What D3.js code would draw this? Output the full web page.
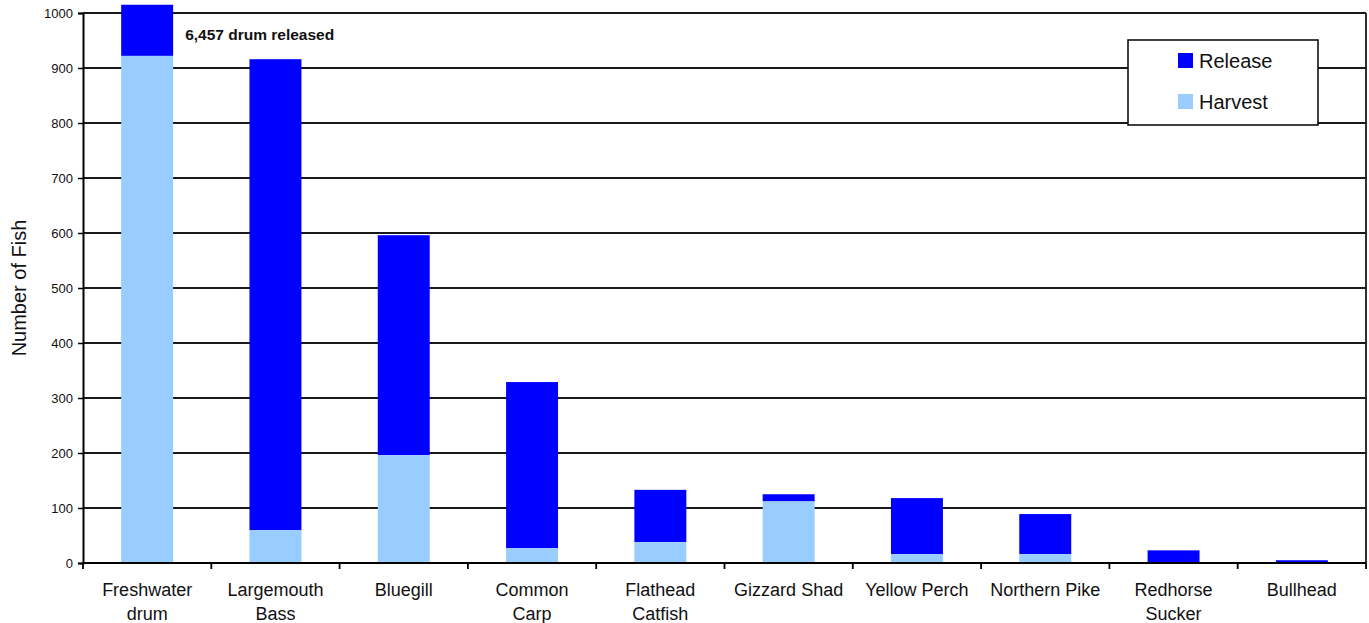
<!DOCTYPE html>
<html>
<head>
<meta charset="utf-8">
<script src="https://cdn.jsdelivr.net/npm/d3@7"></script>
<style>
  html, body { margin: 0; padding: 0; background: #fff; }
  svg { display: block; font-family: "Liberation Sans", Arial, sans-serif; }
</style>
</head>
<body>
<svg id="chart" width="1369" height="623"></svg>
<script>
// ---- data ----
const categories = [
  ["Freshwater", "drum"], ["Largemouth", "Bass"], ["Bluegill"], ["Common", "Carp"],
  ["Flathead", "Catfish"], ["Gizzard Shad"], ["Yellow Perch"], ["Northern Pike"],
  ["Redhorse", "Sucker"], ["Bullhead"]
];
const harvest = [922, 60, 196, 27, 38, 112, 16, 16, 0, 0];
const release = [6457, 856, 400, 302, 95, 13, 102, 73, 23, 5];
const yTicks = [0, 100, 200, 300, 400, 500, 600, 700, 800, 900, 1000];
const seriesNames = ["Release", "Harvest"];
const seriesColors = ["#0000FF", "#99CCFF"];
const barCap = 1015;            // tallest bar is cut just above the axis top
const note = "6,457 drum released";
const yTitle = "Number of Fish";

// ---- layout ----
const svg = d3.select("#chart");
const m = { left: 83, right: 1366, top: 13, bottom: 563 };

const x = d3.scaleBand().domain(d3.range(categories.length))
  .range([m.left, m.right]).paddingInner(0.595).paddingOuter(0.2975);
const xb = d3.scaleBand().domain(d3.range(categories.length)).range([m.left, m.right]);
const y = d3.scaleLinear().domain([0, 1000]).range([m.bottom, m.top]);

// gridlines
svg.append("g").selectAll("line").data(yTicks.filter(d => d > 0)).join("line")
  .attr("x1", m.left).attr("x2", m.right)
  .attr("y1", d => y(d)).attr("y2", d => y(d))
  .attr("stroke", "#1a1a1a").attr("stroke-width", 1.8);

// right border
svg.append("line").attr("x1", m.right).attr("x2", m.right)
  .attr("y1", y(1000)).attr("y2", y(0)).attr("stroke", "#1a1a1a").attr("stroke-width", 1.8);

// bars
const bars = svg.append("g");
categories.forEach((c, i) => {
  const h = harvest[i];
  const top = Math.min(h + release[i], barCap);
  bars.append("rect").attr("x", x(i)).attr("width", x.bandwidth())
    .attr("y", y(top)).attr("height", y(h) - y(top)).attr("fill", seriesColors[0]);
  if (h > 0) {
    bars.append("rect").attr("x", x(i)).attr("width", x.bandwidth())
      .attr("y", y(h)).attr("height", y(0) - y(h)).attr("fill", seriesColors[1]);
  }
});

// y axis
const yAxis = svg.append("g").attr("transform", `translate(${m.left},0)`)
  .call(d3.axisLeft(y).tickValues(yTicks).tickSize(5).tickPadding(5).tickFormat(d3.format("d")));
yAxis.select(".domain").attr("stroke", "#000").attr("stroke-width", 2);
yAxis.selectAll(".tick line").attr("stroke", "#000").attr("stroke-width", 1.5);
yAxis.selectAll(".tick text").attr("font-size", 13).attr("fill", "#111")
  .attr("font-family", "Liberation Sans, Arial, sans-serif");

// x axis
const xAxis = svg.append("g").attr("transform", `translate(0,${m.bottom})`);
xAxis.append("line").attr("x1", m.left).attr("x2", m.right).attr("y1", 0).attr("y2", 0)
  .attr("stroke", "#000").attr("stroke-width", 2.2);
const bounds = d3.range(categories.length + 1).map(i => i < categories.length ? xb(i) : m.right);
xAxis.selectAll("line.tk").data(bounds).join("line").attr("class", "tk")
  .attr("x1", d => d).attr("x2", d => d).attr("y1", 0).attr("y2", 6)
  .attr("stroke", "#000").attr("stroke-width", 1.8);
const labels = xAxis.selectAll("text").data(categories).join("text")
  .attr("text-anchor", "middle").attr("font-size", 18).attr("fill", "#111");
labels.each(function (c, i) {
  const t = d3.select(this);
  c.forEach((line, k) => {
    t.append("tspan").attr("x", xb(i) + xb.bandwidth() / 2).attr("y", 33 + k * 24).text(line);
  });
});

// y title
svg.append("text").attr("transform", `translate(26,${(m.top + m.bottom) / 2}) rotate(-90)`)
  .attr("text-anchor", "middle").attr("font-size", 20).attr("fill", "#111").text(yTitle);

// annotation
svg.append("text").attr("x", x(0) + x.bandwidth() + 12).attr("y", 40)
  .attr("font-size", 15.5).attr("font-weight", "bold")
  .attr("fill", "#111").text(note);

// legend
const lg = svg.append("g");
lg.append("rect").attr("x", 1128).attr("y", 40).attr("width", 190).attr("height", 85)
  .attr("fill", "#fff").attr("stroke", "#111").attr("stroke-width", 1.6);
seriesNames.forEach((s, k) => {
  lg.append("rect").attr("x", 1178).attr("y", 53 + k * 41).attr("width", 15).attr("height", 15)
    .attr("fill", seriesColors[k]);
  lg.append("text").attr("x", 1199).attr("y", 68 + k * 41).attr("font-size", 20)
    .attr("fill", "#111").text(s);
});
</script>
</body>
</html>
